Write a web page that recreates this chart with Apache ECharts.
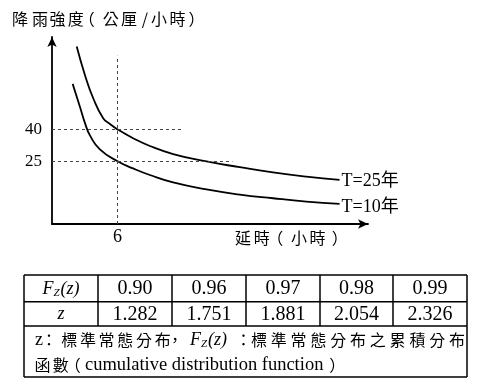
<!DOCTYPE html>
<html><head><meta charset="utf-8">
<script src="https://cdn.jsdelivr.net/npm/echarts@6/dist/echarts.min.js"></script>
<style>html,body{margin:0;padding:0;background:#fff}#c{width:479px;height:389px}</style>
</head><body><div id="c"></div>
<script>
// ---- data ----
const yTickValues = [25, 40];
const xTickValues = [6];
const curveT25 = [[2.26,79.1],[3.01,65.7],[3.77,54.7],[4.68,45.3],[5.30,42.6],[6.0,40.0],[7.42,35.85],[8.95,32.2],[11.08,28.4],[14.13,24.9],[17.17,22.2],[20.21,19.7],[23.26,17.7],[26.30,16.2]];
const curveT10 = [[1.89,61.5],[2.56,50.6],[3.01,43.1],[3.47,37.2],[4.38,30.6],[6.0,25.0],[7.42,21.6],[8.95,18.5],[11.08,15.0],[14.13,11.7],[17.17,9.3],[20.21,7.55],[23.26,6.0],[26.30,4.85]];
const seriesNames = ['T=25年', 'T=10年'];
const guideVertical = [[6, -4.6], [6, 74.8]];
const guide40 = [[0, 40], [11.85, 40]];
const guide25 = [[0, 25], [16.5, 25]];
const fzRow = ['0.90', '0.96', '0.97', '0.98', '0.99'];
const zRow = ['1.282', '1.751', '1.881', '2.054', '2.326'];
const yTitle = '降雨強度（公厘/小時）';
const xTitle = '延時（小時）';

// ---- layout helpers ----
const CJK = '"Noto Sans CJK TC"';
const SERIF = '"Liberation Serif"';
const mctx = document.createElement('canvas').getContext('2d');
function measure(t, font) { mctx.font = font; return mctx.measureText(t).width; }
const G = [];
function txt(t, x, y, font, align) {
  G.push({type: 'text', silent: true, x: x, y: y,
    style: {text: t, font: font, fill: '#000', textAlign: align || 'left', align: align || 'left',
            textVerticalAlign: 'middle', verticalAlign: 'middle'}});
}
function cjkChars(str, centers, y, size) {
  const font = size + 'px ' + CJK;
  [...str].forEach((ch, i) => {
    let cx = centers[i];
    if (ch === '（') cx -= 0.3 * size;
    if (ch === '）') cx += 0.3 * size;
    txt(ch, cx, y, font, 'center');
  });
}
function line(x1, y1, x2, y2, w) {
  G.push({type: 'line', silent: true, shape: {x1, y1, x2, y2}, style: {stroke: '#000', lineWidth: w || 1.5}});
}
function fz(xLeft, y, size) {
  const fi = 'italic ' + size + 'px ' + SERIF;
  const fs = 'italic ' + Math.round(size * 0.62) + 'px ' + SERIF;
  txt('F', xLeft, y, fi);
  let x = xLeft + measure('F', fi);
  txt('Z', x, y + size * 0.22, fs);
  x += measure('Z', fs) + 1;
  txt('(z)', x, y, fi);
  return x + measure('(z)', fi) - xLeft;
}

// axis titles
cjkChars(yTitle, [20, 40, 57.5, 75.8, 91.5, 110.8, 129, 145, 159, 177.5, 191.7], 19, 16);
cjkChars(xTitle, [243, 261.7, 280, 299, 317.5, 335], 237.5, 16);

// table frame
const tL = 24, tR = 467, tT = 275, tB = 377, r1 = 301.7, r2 = 326;
const colX = [tL, 98, 172, 246, 320, 393, tR];
line(tL, tT, tR, tT); line(tL, tB, tR, tB); line(tL, tT, tL, tB); line(tR, tT, tR, tB);
line(tL, r1, tR, r1); line(tL, r2, tR, r2);
for (let i = 1; i < colX.length - 1; i++) line(colX[i], tT, colX[i], r2);
const row1Y = (tT + r1) / 2 + 0.5, row2Y = (r1 + r2) / 2 + 0.5;
(function () {
  const fi = 'italic 18px ' + SERIF;
  const wFz = measure('F', fi) + measure('Z', 'italic 11px ' + SERIF) + 1 + measure('(z)', fi);
  fz((tL + colX[1]) / 2 - wFz / 2, row1Y, 18);
  txt('z', (tL + colX[1]) / 2, row2Y, 'italic 18px ' + SERIF, 'center');
})();
fzRow.forEach((v, i) => txt(v, (colX[i + 1] + colX[i + 2]) / 2, row1Y, '20px ' + SERIF, 'center'));
zRow.forEach((v, i) => txt(v, (colX[i + 1] + colX[i + 2]) / 2, row2Y, '20px ' + SERIF, 'center'));
const n1 = 340, n2 = 365;
txt('z', 35, n1, '18px ' + SERIF);
cjkChars('：', [49], n1, 16);
cjkChars('標準常態分布', [0,1,2,3,4,5].map(k => 69.2 + k * 18.7), n1, 16);
cjkChars('，', [175], n1, 16);
fz(190, n1, 18);
cjkChars('：', [243.5], n1, 16);
cjkChars('標準常態分布之累積分布', [...Array(11).keys()].map(k => 259 + k * 19.8), n1, 16);
cjkChars('函數（', [42.5, 60.8, 77.5], n2, 16);
txt('cumulative distribution function', 85, n2, '18.5px ' + SERIF);
cjkChars('）', [332.5], n2, 16);

// ---- chart ----
const chart = echarts.init(document.getElementById('c'), null, {renderer: 'canvas'});
const axisLineStyle = {color: '#000', width: 1.8};
chart.setOption({
  animation: false,
  grid: {left: 52, right: 111, top: 37, bottom: 165, containLabel: false},
  xAxis: {
    type: 'value', min: 0, max: 28.9,
    axisLine: {show: true, onZero: false, lineStyle: axisLineStyle, symbol: ['none', 'arrow'], symbolSize: [7, 10]},
    axisTick: {show: false}, splitLine: {show: false},
    axisLabel: {customValues: xTickValues, fontFamily: SERIF, fontSize: 18, color: '#000', margin: 4}
  },
  yAxis: {
    type: 'value', min: -4.6, max: 83.6,
    axisLine: {show: true, onZero: false, lineStyle: axisLineStyle, symbol: ['none', 'arrow'], symbolSize: [7, 10]},
    axisTick: {show: false}, splitLine: {show: false},
    axisLabel: {customValues: yTickValues, fontFamily: SERIF, fontSize: 17, color: '#000', margin: 10}
  },
  series: [
    {
      name: seriesNames[0], type: 'line', data: curveT25, smooth: 0.5, symbol: 'none', silent: true,
      lineStyle: {color: '#000', width: 1.8},
      endLabel: {show: true, formatter: seriesNames[0], distance: 2, color: '#000', fontSize: 18,
                 fontFamily: SERIF + ', ' + CJK, offset: [0, 1]},
      markLine: {
        silent: true, symbol: ['none', 'none'], label: {show: false},
        lineStyle: {type: [3, 3], color: '#444', width: 1},
        data: [
          [{coord: guideVertical[0]}, {coord: guideVertical[1]}],
          [{coord: guide40[0]}, {coord: guide40[1]}],
          [{coord: guide25[0]}, {coord: guide25[1]}]
        ]
      }
    },
    {
      name: seriesNames[1], type: 'line', data: curveT10, smooth: 0.5, symbol: 'none', silent: true,
      lineStyle: {color: '#000', width: 1.8},
      endLabel: {show: true, formatter: seriesNames[1], distance: 2, color: '#000', fontSize: 18,
                 fontFamily: SERIF + ', ' + CJK, offset: [0, 3]}
    }
  ],
  graphic: {elements: G}
});
</script></body></html>
